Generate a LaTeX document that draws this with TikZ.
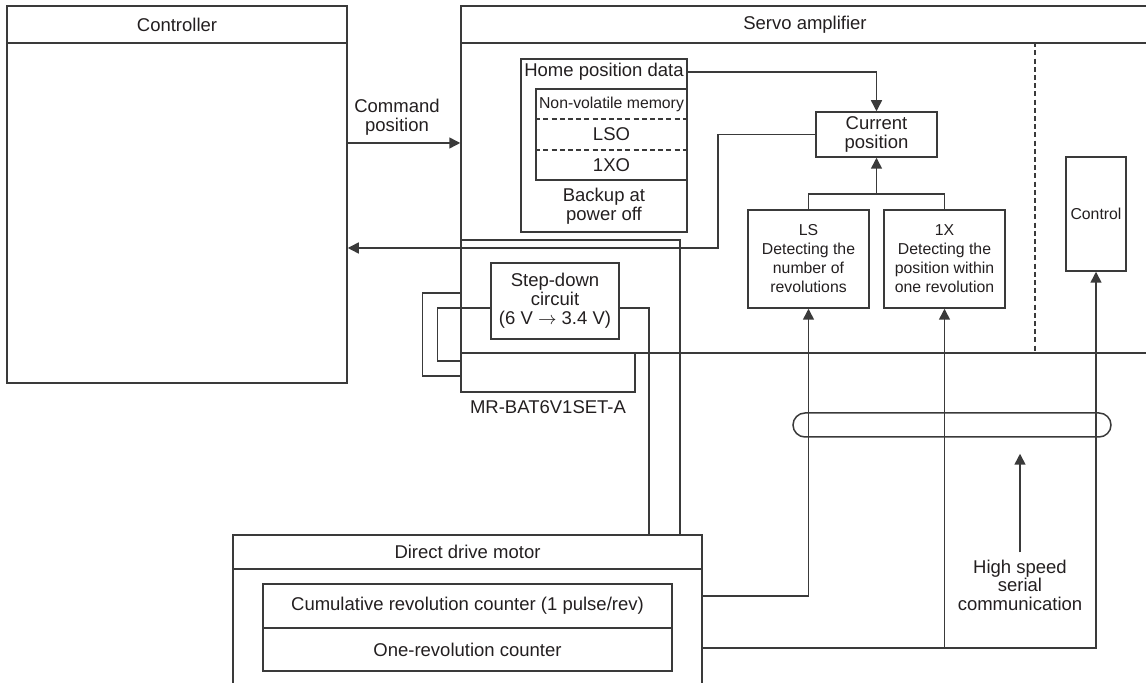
\documentclass[tikz,border=0pt]{standalone}
\usepackage{fontspec}
\setmainfont{Liberation Sans}
\usetikzlibrary{calc,arrows.meta}
\definecolor{linegray}{HTML}{3A3A3A}
\definecolor{textblack}{HTML}{231F20}

\begin{document}
\begin{tikzpicture}[x=0.5pt, y=-0.5pt,
    box/.style={draw=linegray, line width=0.75pt, inner sep=0pt, align=center,
                text=textblack, font=\fontsize{9.25}{9.25}\selectfont},
    small/.style={font=\fontsize{7.9}{9.5}\selectfont},
    lbl/.style={inner sep=0pt, align=center, text=textblack, font=\fontsize{9.25}{9.25}\selectfont},
    wire/.style={draw=linegray, line width=0.75pt},
    arrow/.style={wire, -{Triangle[length=5.5pt, width=5.5pt]}},
    sep/.style={wire, dash pattern=on 2.5pt off 1.6pt}
  ]
    \useasboundingbox (0,0) rectangle (1146,683);
    \clip (0,0) rectangle (1146,683);

    % controller
    \node[box, minimum width=170pt, minimum height=18.5pt] (ctrlhead) at (177,24.5) {Controller};
    \node[box, minimum width=170pt, minimum height=170pt]  (ctrlbody) at (177,213) {};

    % servo amplifier (right side runs off the page)
    \node[box, minimum width=344pt, minimum height=18.5pt] (servohead) at (805,24.5) {Servo amplifier};
    \node[box, minimum width=344pt, minimum height=155pt]  (servobody) at (805,198) {};

    \node[box, minimum width=83pt, minimum height=86.5pt]   (backup) at (604,145.5) {};
    \node[lbl]                                              (home)   at (604,72) {Home position data};
    \node[box, minimum width=75.5pt, minimum height=45.5pt] (mem)    at (611.5,134.5) {};
    \node[lbl, small]                                       (nvm)    at (611.5,104) {Non-volatile memory};
    \node[lbl]                                              (lso)    at (611.5,134.5) {LSO};
    \node[lbl]                                              (xo)     at (611.5,165) {1XO};
    \node[lbl]                                              (bkplbl) at (604,206) {Backup at\\power off};

    \node[box, minimum width=60.5pt, minimum height=22.5pt]    (cur)  at (876.5,134.5) {Current\\position};
    \node[box, small, minimum width=60.5pt, minimum height=49pt] (ls)   at (808.5,259) {LS\\Detecting the\\number of\\revolutions};
    \node[box, small, minimum width=60.5pt, minimum height=49pt] (onex) at (944.5,259) {1X\\Detecting the\\position within\\one revolution};
    \node[box, small, minimum width=30pt, minimum height=57pt]   (ctl)  at (1096,214) {Control};

    \node[box, minimum width=64pt, minimum height=38pt]   (step)   at (555,301) {Step-down\\circuit\\[0.6pt](6 V $\rightarrow$ 3.4 V)};
    \node[box, minimum width=87pt, minimum height=19.5pt] (bat)    at (548,372.5) {};
    \node[lbl]                                            (batlbl) at (548,407) {MR-BAT6V1SET-A};

    \node[lbl] (cmdlbl) at (397,117) {Command\\position};

    \node[box, minimum width=159pt, minimum height=12pt, rounded corners=6pt] (cable) at (952,425) {};
    \node[lbl, inner sep=3.5pt] (serial) at (1020,585) {High speed\\serial\\communication};

    % direct drive motor (bottom runs off the page)
    \node[box, minimum width=234.5pt, minimum height=17pt]   (motorhead) at (467.5,552) {Direct drive motor};
    \node[box, minimum width=234.5pt, minimum height=65.5pt] (motorbody) at (467.5,634.5) {};
    \node[box, minimum width=204.5pt, minimum height=22pt]   (cum)       at (467.5,606) {Cumulative revolution counter (1 pulse/rev)};
    \node[box, minimum width=204.5pt, minimum height=21.5pt] (onerev)    at (467.5,649.5) {One-revolution counter};

    \draw[sep] (1035,0 |- servobody.north) -- (1035,0 |- servobody.south);
    \draw[sep] ($(mem.north west)!1/3!(mem.south west)$) -- ($(mem.north east)!1/3!(mem.south east)$);
    \draw[sep] ($(mem.north west)!2/3!(mem.south west)$) -- ($(mem.north east)!2/3!(mem.south east)$);

    \draw[arrow] ([yshift=35pt]ctrlbody.east) -- ([yshift=35pt]ctrlbody.east -| servobody.west);
    \draw[arrow] (home.east -| backup.east) -| (cur.north);
    \coordinate (ret) at (718,248);
    \draw[arrow] (cur.west) -| (ret) -- (ret -| ctrlbody.east);

    \draw[wire] (ls.north) -- ++(0,-15) -| (onex.north);
    \draw[arrow] (cur.south |- 0,195) -- (cur.south);

    % battery wiring
    \coordinate (cab) at (680,240);
    \coordinate (pwr) at (649,308);
    \draw[wire] (cab -| servobody.west) -- (cab) -- (cab |- motorhead.north);
    \draw[wire] ([yshift=-3.5pt]step.east) -| (pwr |- motorhead.north);
    \draw[wire] ([yshift=-3.5pt]step.west) -- ++(-53,0) |- ([yshift=5.75pt]bat.west);
    \draw[wire] (servobody.west |- 0,293) -- ++(-38,0) |- ([yshift=-1.75pt]bat.west);

    % encoder signals
    \coordinate (bus) at ([yshift=-6.75pt]motorbody.east);
    \draw[arrow] ([yshift=19.25pt]motorbody.east) -| (ls.south);
    \draw[arrow] (bus) -| (ctl.south);
    \draw[arrow] (bus -| onex.south) -- (onex.south);
    \draw[arrow, shorten >=8pt] (serial.north) -- (serial.north |- cable.south);
  \end{tikzpicture}
\end{document}
